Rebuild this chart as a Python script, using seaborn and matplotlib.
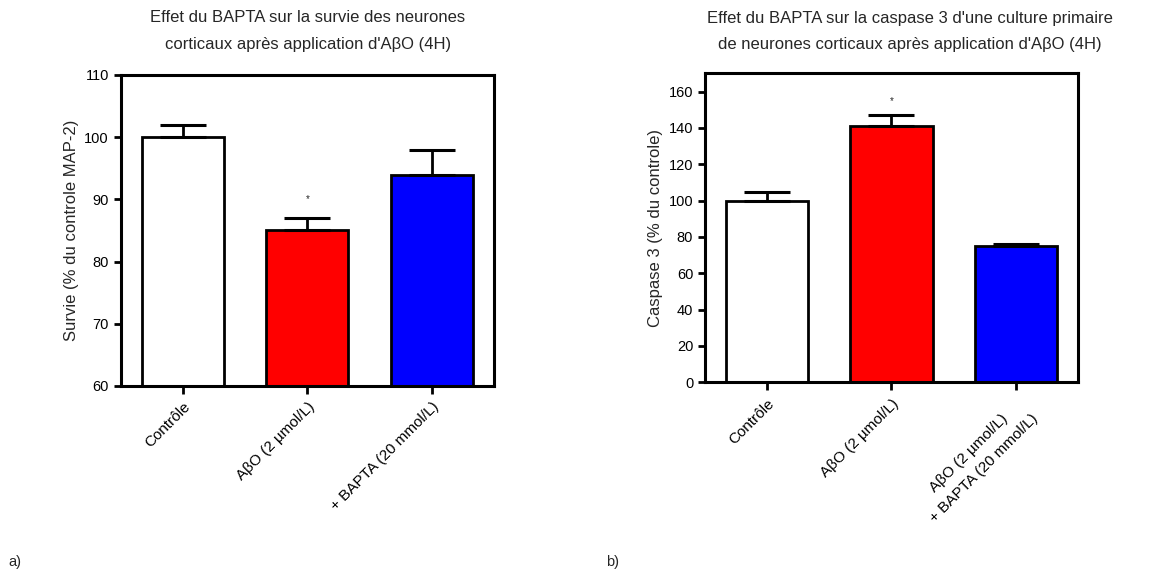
import matplotlib
matplotlib.use("Agg")
import numpy as np
import pandas as pd
import seaborn as sns
import matplotlib.pyplot as plt

# Panel a) : survie (% du controle MAP-2)
labels_a = ["Contrôle", "AβO (2 µmol/L)", "+ BAPTA (20 mmol/L)"]
survie = [100, 85, 94]
survie_sem = [2, 2, 4]

# Panel b) : caspase 3 (% du controle)
labels_b = ["Contrôle", "AβO (2 µmol/L)", "AβO (2 µmol/L)\n+ BAPTA (20 mmol/L)"]
caspase = [100, 141, 75]
caspase_sem = [5, 6, 1]

colors = ["white", "#ff0000", "#0000ff"]
star_idx = 1


def draw_panel(ax, labels, values, sem, ylim, yticks, ylabel, star_offset):
    df = pd.DataFrame({"groupe": labels, "valeur": values})
    sns.barplot(data=df, x="groupe", y="valeur", hue="groupe", palette=colors,
                saturation=1, edgecolor="black", linewidth=2, width=0.66,
                legend=False, errorbar=None, ax=ax)
    # one-sided error bars (upper only)
    ax.errorbar(np.arange(len(values)), values,
                yerr=[np.zeros(len(sem)), sem], fmt="none",
                ecolor="black", elinewidth=2, capsize=16.5, capthick=2.2, zorder=3)
    ax.text(star_idx, values[star_idx] + sem[star_idx] + star_offset, "*",
            ha="center", va="center", fontsize=7)
    ax.set_ylim(*ylim)
    ax.set_xlim(-0.5, len(values) - 0.5)
    ax.set_yticks(yticks)
    ax.set_xlabel("")
    ax.set_ylabel(ylabel, fontsize=12, labelpad=4)
    ax.set_xticks(range(len(labels)))
    ax.set_xticklabels(labels, rotation=45, ha="right", rotation_mode="anchor",
                       multialignment="center", fontsize=11, linespacing=1.7)
    for s in ax.spines.values():
        s.set_linewidth(2.2)
        s.set_color("black")
    ax.tick_params(axis="both", direction="out", length=5, width=2,
                   labelsize=10.5, colors="black")
    ax.tick_params(axis="x", pad=4, length=6, labelsize=11)


sns.set_style("ticks")
plt.rcParams["font.family"] = ["Liberation Sans", "DejaVu Sans"]

fig = plt.figure(figsize=(11.73, 5.72), dpi=100)
ax_a = fig.add_axes([0.1029, 0.3252, 0.3183, 0.5437])
ax_b = fig.add_axes([0.6010, 0.3316, 0.3180, 0.5400])

draw_panel(ax_a, labels_a, survie, survie_sem, (60, 110), range(60, 111, 10),
           "Survie (% du controle MAP-2)", 3)
draw_panel(ax_b, labels_b, caspase, caspase_sem, (0, 170), range(0, 161, 20),
           "Caspase 3 (% du controle)", 8)

title_size = 12
fig.text(308 / 1173, 1 - 18 / 572, "Effet du BAPTA sur la survie des neurones",
         ha="center", va="center", fontsize=title_size)
fig.text(308 / 1173, 1 - 45 / 572, "corticaux après application d'AβO (4H)",
         ha="center", va="center", fontsize=title_size)
fig.text(910 / 1173, 1 - 18 / 572, "Effet du BAPTA sur la caspase 3 d'une culture primaire",
         ha="center", va="center", fontsize=title_size)
fig.text(910 / 1173, 1 - 45 / 572, "de neurones corticaux après application d'AβO (4H)",
         ha="center", va="center", fontsize=title_size)

fig.text(8 / 1173, 1 - 562 / 572, "a)", ha="left", va="center", fontsize=10.5)
fig.text(606 / 1173, 1 - 562 / 572, "b)", ha="left", va="center", fontsize=10.5)

fig.savefig("out.png", dpi=100, facecolor="white")
